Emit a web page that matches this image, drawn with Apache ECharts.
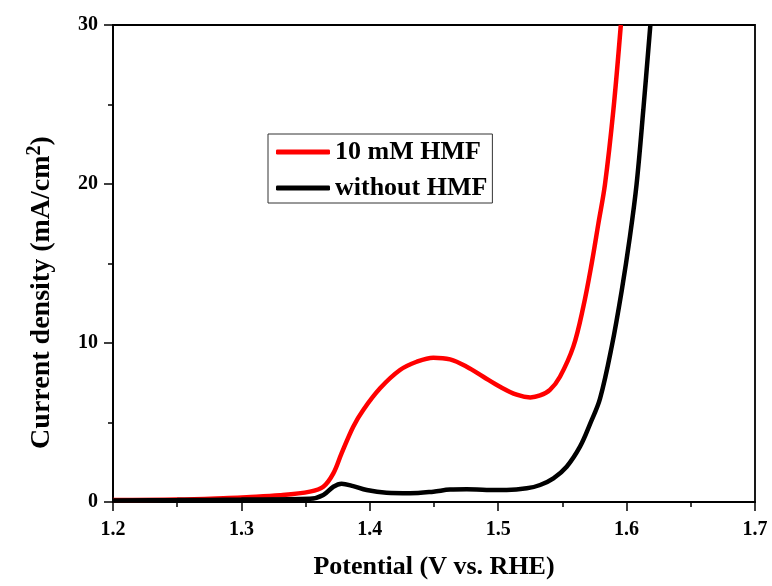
<!DOCTYPE html>
<html>
<head>
<meta charset="utf-8">
<script src="https://cdn.jsdelivr.net/npm/echarts@6/dist/echarts.min.js"></script>
<style>html,body{margin:0;padding:0;background:#fff;overflow:hidden}#c{width:772px;height:586px}</style>
</head>
<body>
<div id="c"></div>
<script>
// Potential (V vs. RHE) and current density (mA/cm2)
const potentialRed = [1.20,1.25,1.29,1.3041,1.33,1.3534,1.3638,1.3716,1.378,1.3871,1.3949,1.408,1.4235,1.4365,1.4495,1.4625,1.4755,1.4884,1.5014,1.5144,1.525,1.5326,1.5403,1.5481,1.5585,1.5663,1.5728,1.578,1.5832,1.5897,1.5955];
const currentRed   = [0.12,0.15,0.25,0.30,0.42,0.65,0.96,1.80,3.06,4.74,5.79,7.15,8.30,8.82,9.08,8.97,8.51,7.88,7.25,6.75,6.58,6.70,7.05,7.88,9.77,12.28,15.0,17.5,20.0,24.65,30.0];
const potentialBlack = [1.20,1.25,1.30,1.3534,1.3638,1.3716,1.378,1.3871,1.3976,1.413,1.4313,1.4495,1.4625,1.4755,1.491,1.5066,1.5222,1.5326,1.543,1.5533,1.5637,1.5715,1.5793,1.5884,1.5962,1.6026,1.6078,1.613,1.6185];
const currentBlack   = [0.10,0.12,0.15,0.20,0.44,0.96,1.15,1.00,0.75,0.58,0.55,0.65,0.78,0.80,0.76,0.76,0.86,1.07,1.49,2.22,3.48,4.90,6.50,9.77,13.3,16.7,20.0,24.65,30.0];
const seriesNames = ['10 mM HMF','without HMF'];
const xTicks = [1.2,1.3,1.4,1.5,1.6,1.7];
const yTicks = [0,10,20,30];

const pair = (xs, ys) => xs.map((x,i)=>[x, ys[i]]);
const font = '"Liberation Serif", "Times New Roman", serif';
const chart = echarts.init(document.getElementById('c'), null, {renderer:'canvas'});
chart.setOption({
  animation:false,
  backgroundColor:'#fff',
  grid:{left:113,width:642,top:25,height:477,show:true,borderColor:'#000',borderWidth:1.8,containLabel:false},
  legend:{
    orient:'vertical', left:268, top:134,
    padding:[5,5,2,8], itemGap:10, itemWidth:54, itemHeight:5, itemTextGap:6,
    icon:'roundRect',
    borderColor:'#333', borderWidth:1, backgroundColor:'#fff',
    textStyle:{fontFamily:font,fontWeight:'bold',fontSize:26,color:'#000'},
    data:seriesNames
  },
  xAxis:{
    type:'value', min:xTicks[0], max:xTicks[xTicks.length-1], interval:0.1,
    name:'Potential (V vs. RHE)', nameLocation:'middle', nameGap:52,
    nameTextStyle:{fontFamily:font,fontWeight:'bold',fontSize:26,color:'#000'},
    axisLine:{lineStyle:{color:'#000',width:1.8}},
    axisTick:{inside:false,length:9,lineStyle:{color:'#000',width:1.5}},
    minorTick:{show:true,splitNumber:2,length:5,lineStyle:{color:'#000',width:1.5}},
    splitLine:{show:false},
    axisLabel:{margin:18,fontFamily:font,fontWeight:'bold',fontSize:20,color:'#000',formatter:v=>v.toFixed(1)}
  },
  yAxis:{
    type:'value', min:yTicks[0], max:yTicks[yTicks.length-1], interval:10,
    name:'{a|Current density (mA/cm}{s|2}{a|)}', nameLocation:'middle', nameGap:54,
    nameTextStyle:{padding:[0,58,0,0],rich:{
      a:{fontFamily:font,fontWeight:'bold',fontSize:28,color:'#000'},
      s:{fontFamily:font,fontWeight:'bold',fontSize:20,color:'#000',padding:[0,0,14,0]}
    }},
    axisLine:{lineStyle:{color:'#000',width:1.8}},
    axisTick:{inside:false,length:9,lineStyle:{color:'#000',width:1.5}},
    minorTick:{show:true,splitNumber:2,length:5,lineStyle:{color:'#000',width:1.5}},
    splitLine:{show:false},
    axisLabel:{margin:15,fontFamily:font,fontWeight:'bold',fontSize:20,color:'#000'}
  },
  series:[
    {name:seriesNames[0],type:'line',smooth:0.35,showSymbol:false,symbol:'none',clip:true,
     data:pair(potentialRed,currentRed),lineStyle:{color:'#ff0000',width:4.5},itemStyle:{color:'#ff0000'}},
    {name:seriesNames[1],type:'line',smooth:0.35,showSymbol:false,symbol:'none',clip:true,
     data:pair(potentialBlack,currentBlack),lineStyle:{color:'#000',width:4.5},itemStyle:{color:'#000'}}
  ]
});
</script>
</body>
</html>
